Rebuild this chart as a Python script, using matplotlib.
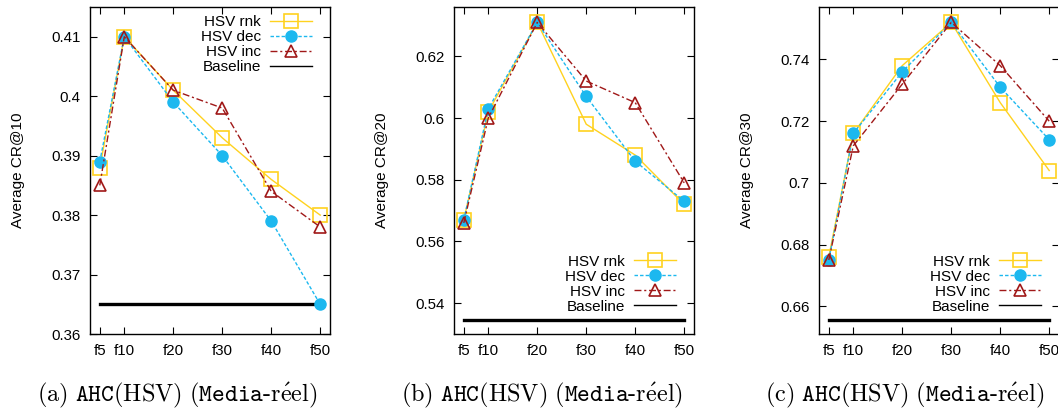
import matplotlib
matplotlib.use("Agg")
import matplotlib.pyplot as plt
from matplotlib.lines import Line2D
from matplotlib.ticker import FormatStrFormatter

plt.rcParams['font.family'] = ['Liberation Sans', 'DejaVu Sans']
plt.rcParams['mathtext.fontset'] = 'cm'

# ---- data ----
feat_x = [5, 10, 20, 30, 40, 50]
feat_labels = ["f5", "f10", "f20", "f30", "f40", "f50"]

cr10_rnk = [0.388, 0.410, 0.401, 0.393, 0.386, 0.380]
cr10_dec = [0.389, 0.410, 0.399, 0.390, 0.379, 0.365]
cr10_inc = [0.385, 0.410, 0.401, 0.398, 0.384, 0.378]
cr10_base = 0.365

cr20_rnk = [0.567, 0.602, 0.631, 0.598, 0.588, 0.572]
cr20_dec = [0.567, 0.603, 0.631, 0.607, 0.586, 0.573]
cr20_inc = [0.566, 0.600, 0.631, 0.612, 0.605, 0.579]
cr20_base = 0.5345

cr30_rnk = [0.676, 0.716, 0.738, 0.752, 0.726, 0.704]
cr30_dec = [0.675, 0.716, 0.736, 0.752, 0.731, 0.714]
cr30_inc = [0.675, 0.712, 0.732, 0.752, 0.738, 0.720]
cr30_base = 0.6557

ylabels = ["Average CR@10", "Average CR@20", "Average CR@30"]
captions = [
    r"$\mathrm{(a)}\ \mathtt{AHC}\mathrm{(HSV)}\ \mathrm{(}\mathtt{Media}\text{-}\mathrm{r\acute{e}el)}$",
    r"$\mathrm{(b)}\ \mathtt{AHC}\mathrm{(HSV)}\ \mathrm{(}\mathtt{Media}\text{-}\mathrm{r\acute{e}el)}$",
    r"$\mathrm{(c)}\ \mathtt{AHC}\mathrm{(HSV)}\ \mathrm{(}\mathtt{Media}\text{-}\mathrm{r\acute{e}el)}$",
]
series_names = ["HSV rnk", "HSV dec", "HSV inc", "Baseline"]

panels = [
    (cr10_rnk, cr10_dec, cr10_inc, cr10_base, (0.36, 0.415), [0.36, 0.37, 0.38, 0.39, 0.40, 0.41], "upper right"),
    (cr20_rnk, cr20_dec, cr20_inc, cr20_base, (0.53, 0.636), [0.54, 0.56, 0.58, 0.60, 0.62], "lower right"),
    (cr30_rnk, cr30_dec, cr30_inc, cr30_base, (0.651, 0.757), [0.66, 0.68, 0.70, 0.72, 0.74], "lower right"),
]

c_rnk = "#ffd21f"
c_dec = "#1cb8ef"
c_inc = "#a01818"

W, H = 1058, 412
fig = plt.figure(figsize=(W / 100, H / 100), dpi=100)

lefts = [90, 454, 819]
ax_w, ax_top, ax_bot = 240, 7, 334
cap_x = [177, 542, 905]

for i, (rnk, dec, inc, base, ylim, yt, loc) in enumerate(panels):
    ax = fig.add_axes([lefts[i] / W, (H - ax_bot) / H, ax_w / W, (ax_bot - ax_top) / H])
    ax.plot(feat_x, rnk, color=c_rnk, lw=1.0, marker="s", ms=10, mfc="none", mec=c_rnk, mew=1.2, zorder=3)
    ax.plot(feat_x, dec, color=c_dec, lw=1.0, ls=(0, (2.5, 1.5)), marker="o", ms=8, mfc=c_dec, mec=c_dec, zorder=4)
    ax.plot(feat_x, inc, color=c_inc, lw=1.0, ls=(0, (5, 2, 1.5, 2)), marker="^", ms=9, mfc="none", mec=c_inc, mew=1.2, zorder=5)
    ax.plot([feat_x[0], feat_x[-1]], [base, base], color="black", lw=2.4, zorder=2)
    ax.set_xlim(3, 52)
    ax.set_ylim(*ylim)
    ax.set_xticks(feat_x)
    ax.set_xticklabels(feat_labels)
    ax.set_yticks(yt)
    ax.yaxis.set_major_formatter(FormatStrFormatter("%g"))
    ax.tick_params(direction="in", length=5, width=0.8, top=True, right=True, labelsize=10.8, pad=7)
    for s in ax.spines.values():
        s.set_linewidth(1.0)
    ax.set_ylabel(ylabels[i], fontsize=11)
    ax.yaxis.set_label_coords(-0.27, 0.5)

    handles = [
        Line2D([], [], color=c_rnk, lw=1.0, marker="s", ms=10, mfc="none", mec=c_rnk, mew=1.2),
        Line2D([], [], color=c_dec, lw=1.0, ls=(0, (2.5, 1.5)), marker="o", ms=8, mfc=c_dec, mec=c_dec),
        Line2D([], [], color=c_inc, lw=1.0, ls=(0, (5, 2, 1.5, 2)), marker="^", ms=9, mfc="none", mec=c_inc, mew=1.2),
        Line2D([], [], color="black", lw=1.0),
    ]
    if loc == "upper right":
        bta = (0.925, 0.975)
    else:
        bta = (0.925, 0.062)
    ax.legend(handles, series_names, loc=loc, bbox_to_anchor=bta, frameon=False, markerfirst=False,
              fontsize=11, handlelength=2.75, handletextpad=0.6, labelspacing=0.07, numpoints=1,
              borderaxespad=0.0, borderpad=0.0)

    fig.text(cap_x[i] / W, 1 - 395 / H, captions[i], ha="center", va="center", fontsize=17.5)

fig.savefig("out.png", dpi=100)
